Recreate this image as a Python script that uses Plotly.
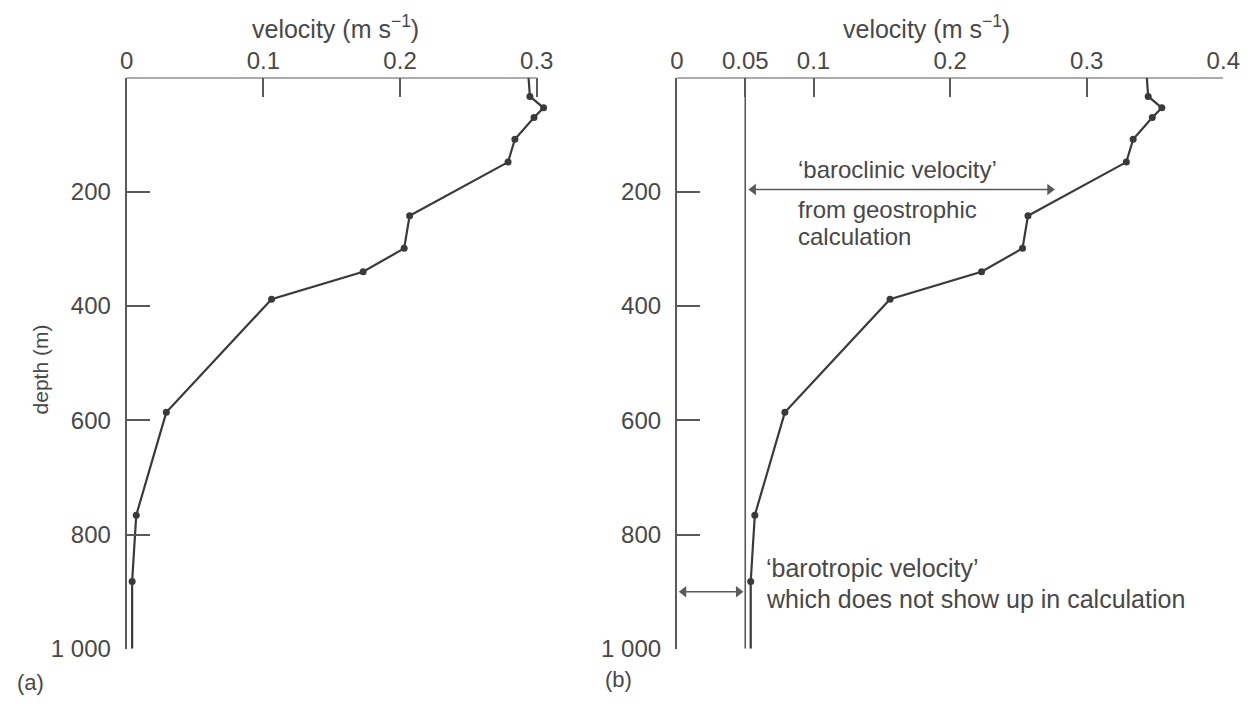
import plotly.graph_objects as go

# ---------------- data ----------------
depth = [0, 33, 53, 70, 108, 148, 242, 299, 340, 388, 586, 766, 882, 1000]
velocity_a = [0.294, 0.295, 0.305, 0.298, 0.284, 0.279, 0.207, 0.203, 0.173, 0.106, 0.029, 0.007, 0.004, 0.004]
velocity_b = [0.344, 0.345, 0.355, 0.348, 0.334, 0.329, 0.257, 0.253, 0.223, 0.156, 0.079, 0.057, 0.054, 0.054]
barotropic_velocity = 0.05

xticks_a = [0, 0.1, 0.2, 0.3]
xticktext_a = ["0", "0.1", "0.2", "0.3"]
xticks_b = [0, 0.05, 0.1, 0.2, 0.3, 0.4]
xticktext_b = ["0", "0.05", "0.1", "0.2", "0.3", "0.4"]
yticks = [200, 400, 600, 800, 1000]
yticktext = ["200", "400", "600", "800", "1 000"]

# ---------------- styling ----------------
W, H = 1256, 708
FONT = "Liberation Sans, Arial, sans-serif"
TXT = "#484848"
LINE = "#3a3a3a"
AX = "#5a5a5a"


def px(x):
    return x / W


def py(y):
    return 1 - y / H


fig = go.Figure()

for xs, xa, ya in [(velocity_a, "x", "y"), (velocity_b, "x2", "y2")]:
    fig.add_trace(go.Scatter(x=xs, y=depth, mode="lines", xaxis=xa, yaxis=ya,
                             line=dict(color=LINE, width=2.2), hoverinfo="skip"))
    fig.add_trace(go.Scatter(x=xs[1:-1], y=depth[1:-1], mode="markers", xaxis=xa, yaxis=ya,
                             marker=dict(color=LINE, size=7), hoverinfo="skip"))

common_x = dict(side="top", ticks="inside", ticklen=19, tickwidth=1.6, tickcolor=AX,
                showgrid=False, zeroline=False, showline=False,
                tickfont=dict(family=FONT, size=24, color=TXT), ticklabelstandoff=3)
common_y = dict(range=[1000, 0], tickvals=yticks, ticktext=yticktext, ticks="inside",
                ticklen=23, tickwidth=1.6, tickcolor=AX, showgrid=False, zeroline=False,
                showline=True, linecolor=AX, linewidth=2,
                tickfont=dict(family=FONT, size=24, color=TXT), ticklabelstandoff=9)

fig.update_layout(
    width=W, height=H, margin=dict(l=0, r=0, t=0, b=0),
    paper_bgcolor="white", plot_bgcolor="white", showlegend=False,
    xaxis=dict(domain=[px(122), px(554)], range=[0, 0.31], anchor="y",
               tickvals=xticks_a, ticktext=xticktext_a, **common_x),
    yaxis=dict(domain=[py(661), py(79)], anchor="x", **common_y),
    xaxis2=dict(domain=[px(683), px(1240)], range=[0, 0.4], anchor="y2",
                tickvals=xticks_b, ticktext=xticktext_b, **common_x),
    yaxis2=dict(domain=[py(661), py(79)], anchor="x2", **common_y),
)

# top frame lines
fig.add_shape(type="line", xref="x", yref="y", x0=0, x1=0.3, y0=0, y1=0,
              line=dict(color=AX, width=2))
fig.add_shape(type="line", xref="x2", yref="y2", x0=0, x1=0.4, y0=0, y1=0,
              line=dict(color=AX, width=2))
# barotropic reference line
fig.add_shape(type="line", xref="x2", yref="y2", x0=barotropic_velocity, x1=barotropic_velocity,
              y0=0, y1=1000, line=dict(color=AX, width=1.6))


# double-headed arrows (line + triangle heads)
def double_arrow(x0, x1, y):
    fig.add_trace(go.Scatter(x=[x0, x1], y=[y, y], mode="lines+markers", xaxis="x2", yaxis="y2",
                             line=dict(color=AX, width=1.5),
                             marker=dict(symbol=["triangle-left", "triangle-right"], size=10,
                                         color=AX),
                             hoverinfo="skip"))


double_arrow(barotropic_velocity + 0.006, 0.273, 196)
double_arrow(0.005, barotropic_velocity - 0.005, 900)


def label(text, x, y, size=24, xanchor="left", angle=0):
    fig.add_annotation(xref="paper", yref="paper", x=px(x), y=py(y), text=text,
                       showarrow=False, xanchor=xanchor, yanchor="middle", textangle=angle,
                       font=dict(family=FONT, size=size, color=TXT))


label("velocity (m s<sup>−1</sup>)", 335, 27, size=25, xanchor="center")
label("velocity (m s<sup>−1</sup>)", 937, 27, size=25, xanchor="center")
label("depth (m)", 34, 376, size=21, xanchor="center", angle=-90)
label("(a)", 8, 695, size=22)
label("(b)", 608, 692, size=22)
label("‘baroclinic velocity’", 804, 173)
label("from geostrophic", 804, 213)
label("calculation", 804, 241)
label("‘barotropic velocity’", 772, 579, size=25)
label("which does not show up in calculation", 772, 610, size=25)

fig.write_html("out.html")
